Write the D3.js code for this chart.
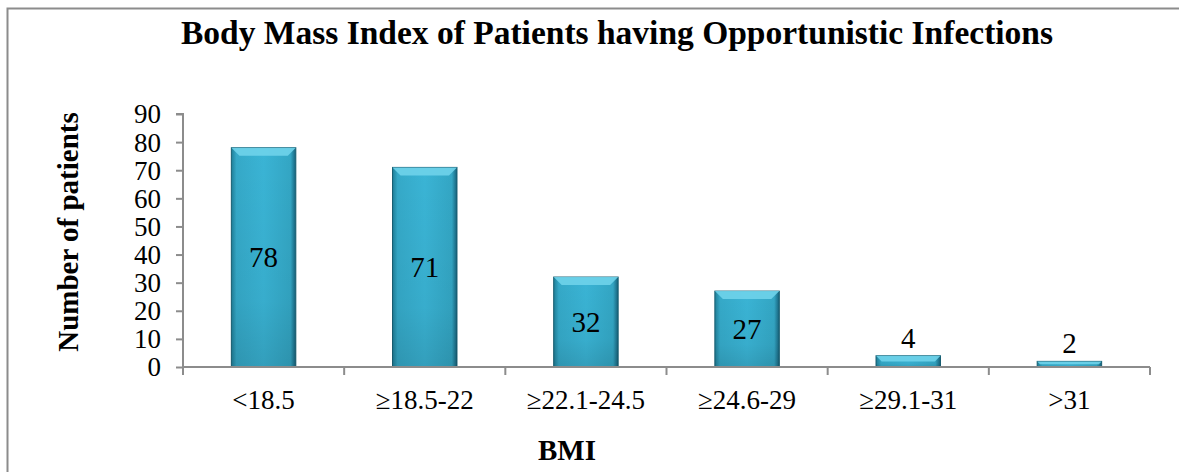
<!DOCTYPE html>
<html>
<head>
<meta charset="utf-8">
<script src="https://cdn.jsdelivr.net/npm/d3@7"></script>
<style>
  body { margin: 0; background: #fff; }
  svg { display: block; font-family: "Liberation Serif", "Times New Roman", serif; }
</style>
</head>
<body>
<div id="chart"></div>
<script>
// data
var categories = ["<18.5", "\u226518.5-22", "\u226522.1-24.5", "\u226524.6-29", "\u226529.1-31", ">31"];
var patients = [78, 71, 32, 27, 4, 2];
var yTicks = [0, 10, 20, 30, 40, 50, 60, 70, 80, 90];

var width = 1179, height = 472;
var margin = {left: 183, right: 29, top: 114, bottom: 105};

var svg = d3.select("#chart").append("svg")
    .attr("width", width)
    .attr("height", height);

// outer frame (right and bottom run off the picture)
svg.append("rect")
    .attr("x", 7.5).attr("y", 8.5)
    .attr("width", 1200).attr("height", 500)
    .attr("fill", "none")
    .attr("stroke", "#8c8c8c")
    .attr("stroke-width", 2);

var x = d3.scaleBand()
    .domain(categories)
    .range([margin.left, width - margin.right])
    .paddingInner(0.6)
    .paddingOuter(0.3);

var y = d3.scaleLinear()
    .domain([0, 90])
    .range([height - margin.bottom, margin.top]);

var defs = svg.append("defs");
var g1 = defs.append("linearGradient").attr("id", "barFill")
    .attr("x1", 0).attr("y1", 0).attr("x2", 1).attr("y2", 0);
g1.append("stop").attr("offset", "0").attr("stop-color", "#1f7f98");
g1.append("stop").attr("offset", "0.08").attr("stop-color", "#35a9c8");
g1.append("stop").attr("offset", "0.5").attr("stop-color", "#3ab4d5");
g1.append("stop").attr("offset", "0.92").attr("stop-color", "#33a6c4");
g1.append("stop").attr("offset", "1").attr("stop-color", "#16617a");

var g2 = defs.append("linearGradient").attr("id", "barShade")
    .attr("x1", 0).attr("y1", 0).attr("x2", 0).attr("y2", 1);
g2.append("stop").attr("offset", "0").attr("stop-color", "#000").attr("stop-opacity", 0);
g2.append("stop").attr("offset", "0.7").attr("stop-color", "#000").attr("stop-opacity", 0.04);
g2.append("stop").attr("offset", "1").attr("stop-color", "#000").attr("stop-opacity", 0.12);

// y axis
var yAxis = svg.append("g")
    .attr("transform", "translate(" + margin.left + ",0)")
    .call(d3.axisLeft(y).tickValues(yTicks).tickSize(7).tickPadding(15));
yAxis.attr("font-family", null).attr("font-size", null);
yAxis.selectAll("path, line").attr("stroke", "#8c8c8c").attr("stroke-width", 2);
yAxis.select(".domain").attr("d", "M-7," + y(90) + "H0V" + y(0));
yAxis.selectAll("text")
    .attr("font-size", 27)
    .attr("fill", "#000")
    .attr("dy", "0.33em");

// bars
var bars = svg.append("g").selectAll("g.bar")
    .data(patients)
    .enter().append("g").attr("class", "bar");

bars.append("rect")
    .attr("x", function(d, i) { return x(categories[i]); })
    .attr("y", function(d) { return y(d); })
    .attr("width", x.bandwidth())
    .attr("height", function(d) { return y(0) - y(d); })
    .attr("fill", "url(#barFill)")
    .attr("stroke", "#175e72")
    .attr("stroke-width", 1);

bars.append("rect")
    .attr("x", function(d, i) { return x(categories[i]); })
    .attr("y", function(d) { return y(d); })
    .attr("width", x.bandwidth())
    .attr("height", function(d) { return y(0) - y(d); })
    .attr("fill", "url(#barShade)");

// bevelled top
bars.append("path")
    .attr("d", function(d, i) {
        var x0 = x(categories[i]), x1 = x0 + x.bandwidth(), t = y(d);
        var b = Math.min(8, (y(0) - t) / 2);
        return "M" + x0 + "," + t + "H" + x1 + "L" + (x1 - b) + "," + (t + b) + "H" + (x0 + b) + "Z";
    })
    .attr("fill", "#6fd3ea")
    .attr("opacity", 0.9);

// x axis
var xAxis = svg.append("g")
    .attr("transform", "translate(0," + y(0) + ")");
var edges = d3.range(categories.length + 1).map(function(i) { return margin.left + i * (width - margin.left - margin.right) / categories.length; });
xAxis.append("line")
    .attr("x1", margin.left).attr("x2", width - margin.right)
    .attr("stroke", "#8c8c8c").attr("stroke-width", 2);
xAxis.selectAll("line.tick").data(edges).enter().append("line")
    .attr("class", "tick")
    .attr("x1", function(d) { return d; }).attr("x2", function(d) { return d; })
    .attr("y1", 0).attr("y2", 8)
    .attr("stroke", "#8c8c8c").attr("stroke-width", 2);
xAxis.selectAll("text").data(categories).enter().append("text")
    .attr("x", function(d) { return x(d) + x.bandwidth() / 2; })
    .attr("y", 42)
    .attr("text-anchor", "middle")
    .attr("font-size", 27)
    .text(function(d) { return d; });

// value labels
bars.append("text")
    .attr("x", function(d, i) { return x(categories[i]) + x.bandwidth() / 2; })
    .attr("y", function(d) { return d > 10 ? (y(d) + y(0)) / 2 + 10 : y(d) - 8; })
    .attr("text-anchor", "middle")
    .attr("font-size", 29)
    .text(function(d) { return d; });

// titles
svg.append("text")
    .attr("x", 617).attr("y", 44)
    .attr("text-anchor", "middle")
    .attr("font-size", 33.5)
    .attr("font-weight", "bold")
    .text("Body Mass Index of Patients having Opportunistic Infections");

svg.append("text")
    .attr("transform", "translate(78,232) rotate(-90)")
    .attr("text-anchor", "middle")
    .attr("font-size", 29)
    .attr("font-weight", "bold")
    .text("Number of patients");

svg.append("text")
    .attr("x", 567).attr("y", 460)
    .attr("text-anchor", "middle")
    .attr("font-size", 29)
    .attr("font-weight", "bold")
    .text("BMI");
</script>
</body>
</html>
